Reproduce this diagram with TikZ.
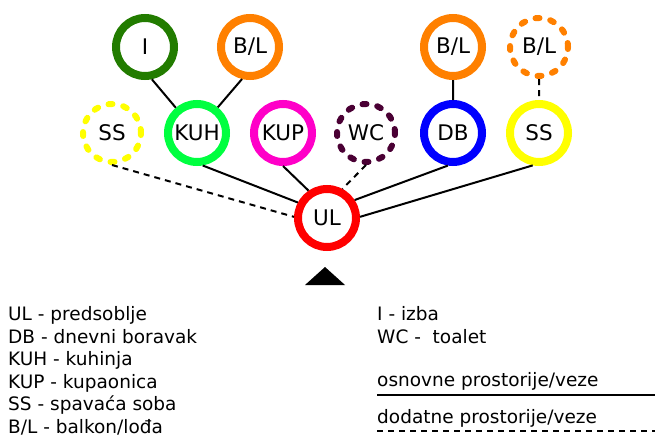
\documentclass[tikz,border=0pt]{standalone}
\usepackage{fontspec}
\setmainfont{DejaVu Sans}
\definecolor{izbagreen}{RGB}{34,124,0}
\definecolor{balkonorange}{RGB}{255,128,0}
\definecolor{ssyellow}{RGB}{255,255,0}
\definecolor{kuhgreen}{RGB}{0,255,64}
\definecolor{kuppink}{RGB}{255,0,200}
\definecolor{wcpurple}{RGB}{74,0,52}
\definecolor{dbblue}{RGB}{0,0,255}
\definecolor{ulred}{RGB}{255,0,0}
\begin{document}
\begin{tikzpicture}[x=1pt, y=-1pt,
  room/.style={draw, shape=circle, line width=8pt, minimum size=58pt, inner sep=0pt, font=\fontsize{21.5}{25}\selectfont},
  extra/.style={line width=6pt, dash pattern=on 4pt off 11pt, line cap=round},
  link/.style={line width=2pt},
  extralink/.style={line width=2pt, dash pattern=on 6pt off 5pt},
  legend/.style={anchor=base west, inner sep=0pt, font=\fontsize{18.5}{22}\selectfont}]
\useasboundingbox (0,0) rectangle (655,436);
\node[room, izbagreen] (i) at (145, 47) {\color{black}I};
\node[room, balkonorange] (bl1) at (250, 47) {\color{black}B/L};
\node[room, balkonorange] (bl2) at (453, 47) {\color{black}B/L};
\node[room, extra, balkonorange] (bl3) at (539, 47) {\color{black}B/L};
\node[room, extra, ssyellow] (ss1) at (112, 133) {\color{black}SS};
\node[room, kuhgreen] (kuh) at (197, 133) {\color{black}KUH};
\node[room, kuppink] (kup) at (283, 133) {\color{black}KUP};
\node[room, extra, wcpurple] (wc) at (366, 133) {\color{black}WC};
\node[room, dbblue] (db) at (453, 133) {\color{black}DB};
\node[room, ssyellow] (ss2) at (539, 133) {\color{black}SS};
\node[room, ulred] (ul) at (327, 218) {\color{black}UL};
% veze
\draw[link] (i.282) -- (kuh.130)
(bl1.256) -- (kuh.51)
(kuh.280) -- (ul.152)
(kup.south) -- (ul.124)
(db.261) -- (ul.33)
(ss2.259) -- (ul.2)
(bl2) -- (db);
\draw[extralink] (ss1.south) -- (ul.178)
(wc.south) -- (ul.62)
(bl3) -- (ss2);
% ulaz
\fill (325, 267) -- (345, 285) -- (305, 285) -- cycle;
% legenda
\node[legend] (lul) at (8, 320) {UL - predsoblje};
\node[legend] (ldb) at (8, 343) {DB - dnevni boravak};
\node[legend] (lkuh) at (8, 365.5) {KUH - kuhinja};
\node[legend] (lkup) at (8, 388) {KUP - kupaonica};
\node[legend] (lss) at (8, 410.5) {SS - spavaća soba};
\node[legend] (lbl) at (8, 433) {B/L - balkon/lođa};
\node[legend] (li) at (377, 320) {I - izba};
\node[legend] (lwc) at (377, 343) {WC -~ toalet};
\node[legend] (losn) at (377, 386.5) {osnovne prostorije/veze};
\node[legend] (ldod) at (377, 423) {dodatne prostorije/veze};
\coordinate (osnA) at (377, 395);
\coordinate (osnB) at (655, 395);
\coordinate (dodA) at (377, 431);
\coordinate (dodB) at (655, 431);
\draw[link] (osnA) -- (osnB);
\draw[extralink] (dodA) -- (dodB);
\end{tikzpicture}
\end{document}
